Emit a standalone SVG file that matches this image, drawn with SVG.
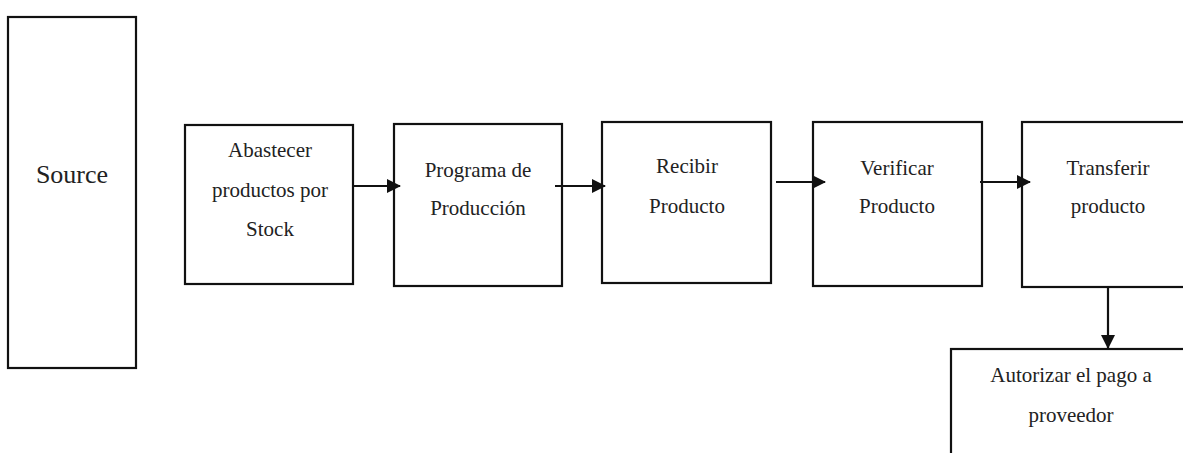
<svg xmlns="http://www.w3.org/2000/svg" width="1183" height="453" viewBox="0 0 1183 453">
<style>
.box{fill:#fff;stroke:#111;stroke-width:2.2}
text{font-family:'Liberation Serif','Times New Roman','DejaVu Serif',serif;font-size:21px;fill:#222;text-anchor:middle}
.big{font-size:26px}
.c{stroke:#111;stroke-width:2.2;fill:none}
</style>
<defs>
<marker id="ah" viewBox="0 0 14 14" refX="13" refY="7" markerWidth="14" markerHeight="14" markerUnits="userSpaceOnUse" orient="auto">
<path d="M0,0 L14,7 L0,14 Z" fill="#111"/>
</marker>
</defs>
<rect width="1183" height="453" fill="#fff"/>
<g id="source"><rect class="box" x="8" y="17" width="128" height="351"/><text class="big" x="72" y="183">Source</text></g>
<g id="abastecer"><rect class="box" x="185" y="125" width="168" height="159"/><text x="270" y="157">Abastecer</text><text x="270" y="197">productos por</text><text x="270" y="236">Stock</text></g>
<g id="programa"><rect class="box" x="394" y="124" width="168" height="162"/><text x="478" y="177">Programa de</text><text x="478" y="215">Producción</text></g>
<g id="recibir"><rect class="box" x="602" y="122" width="169" height="161"/><text x="687" y="173">Recibir</text><text x="687" y="213">Producto</text></g>
<g id="verificar"><rect class="box" x="813" y="122" width="169" height="164"/><text x="897" y="175">Verificar</text><text x="897" y="213">Producto</text></g>
<g id="transferir"><rect class="box" x="1022" y="122" width="180" height="165"/><text x="1108" y="175">Transferir</text><text x="1108" y="213">producto</text></g>
<g id="autorizar"><rect class="box" x="951" y="349" width="260" height="130"/><text x="1071" y="382">Autorizar el pago a</text><text x="1071" y="422">proveedor</text></g>
<g id="connectors">
<line class="c" x1="353" y1="186" x2="400" y2="186" marker-end="url(#ah)"/>
<line class="c" x1="555" y1="186" x2="605" y2="186" marker-end="url(#ah)"/>
<line class="c" x1="776" y1="182" x2="825" y2="182" marker-end="url(#ah)"/>
<line class="c" x1="980" y1="182" x2="1030" y2="182" marker-end="url(#ah)"/>
<line class="c" x1="1108" y1="287" x2="1108" y2="348" marker-end="url(#ah)"/>
</g>
</svg>
